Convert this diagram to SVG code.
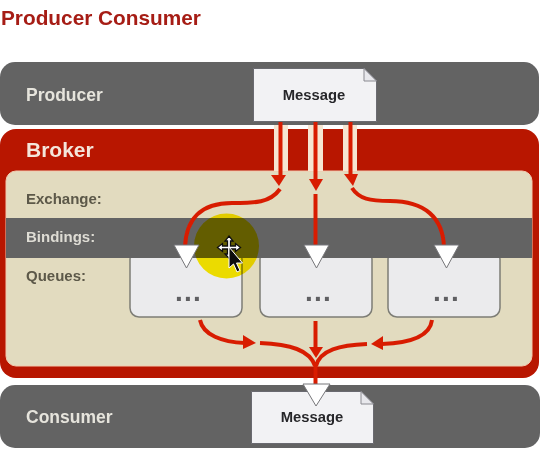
<svg xmlns="http://www.w3.org/2000/svg" width="559" height="452" viewBox="0 0 559 452">
<style>
text{font-family:"Liberation Sans",Arial,sans-serif;font-weight:bold}
.band{fill:#636364}
.lab{font-size:17.500px;fill:#e6e4dc}
.row{font-size:15px;fill:#5c5848}
.msg{font-size:14.800px;fill:#28282a;text-anchor:middle}
.doc{fill:#f2f2f4;stroke:#6a6a70;stroke-width:1}
.fold{fill:#e8e8ec;stroke:#8a8a90;stroke-width:1}
.q{fill:#ebebed;stroke:#7d7d76;stroke-width:1.500}
.dots{font-size:28px;fill:#5e5e62;letter-spacing:1.200px}
.wire{fill:none;stroke:#d81e05;stroke-width:4}
.head{fill:#d81e05}
.stripe{fill:#f6e6d2}
.tri{fill:#fff;stroke:#77777a;stroke-width:1}
</style>
<defs><filter id="soft" x="0" y="0" width="100%" height="100%"><feGaussianBlur stdDeviation="0.500"/></filter></defs>
<g filter="url(#soft)">
<rect width="559" height="452" fill="#fff"/>
<text x="1" y="25" font-size="20.800" fill="#a61e14">Producer Consumer</text>

<g id="producer">
<rect class="band" x="0" y="62" width="539" height="63" rx="15"/>
<text class="lab" x="26" y="101">Producer</text>
</g>

<g id="consumer">
<rect class="band" x="0" y="385" width="540" height="63" rx="15"/>
<text class="lab" x="26" y="423">Consumer</text>
</g>

<g id="broker">
<rect x="0" y="129" width="539" height="249" rx="16" fill="#b81400"/>
<rect x="6" y="171" width="526" height="195" rx="10" fill="#e2dbbf" stroke="#f3c9ae" stroke-width="1"/>
<text x="26" y="157" font-size="21" fill="#f4e6da">Broker</text>
<text class="row" x="26" y="204">Exchange:</text>
<text class="row" x="26" y="281">Queues:</text>
</g>

<g id="queue1"><rect class="q" x="130" y="250" width="112" height="67" rx="9"/><text class="dots" x="175" y="301">...</text></g>
<g id="queue2"><rect class="q" x="260" y="250" width="112" height="67" rx="9"/><text class="dots" x="305" y="301">...</text></g>
<g id="queue3"><rect class="q" x="388" y="250" width="112" height="67" rx="9"/><text class="dots" x="433" y="301">...</text></g>

<g id="bindings">
<rect class="band" x="6" y="218" width="526" height="40"/>
<text class="row" x="26" y="242" style="fill:#dedcd4">Bindings:</text>
</g>

<circle cx="226.500" cy="246" r="32.500" fill="#ffee00" style="mix-blend-mode:multiply"/>

<g id="connectors">
<rect class="stripe" x="274" y="125" width="14" height="46"/>
<rect class="stripe" x="308" y="125" width="15" height="46"/>
<rect class="stripe" x="343" y="125" width="14" height="46"/>
<path class="wire" d="M280.500 122V176"/>
<path class="wire" d="M315.500 122V180"/>
<path class="wire" d="M350.500 122V176"/>
<path class="head" d="M271 175H286L279 186Z"/>
<path class="head" d="M309 179H323L316 191Z"/>
<path class="head" d="M344 174H358L353 186Z"/>
<path class="wire" d="M280 189C270 203 255 203 232 203C200 203 186 220 185 247"/>
<path class="wire" d="M315.500 194V247"/>
<path class="wire" d="M352 188C359 199 370 201 390 201C425 201 443 218 444 247"/>
<path class="wire" d="M200 320C203 335 222 342 245 343"/>
<path class="head" d="M243 335L256 343L243 349Z"/>
<path class="wire" d="M260 343C290 344 310 350 315 366"/>
<path class="wire" d="M315.500 321V350"/>
<path class="head" d="M309 347H323L316 358Z"/>
<path class="wire" d="M432 320C430 336 410 343 382 344"/>
<path class="head" d="M383 336L371 344L383 350Z"/>
<path class="wire" d="M367 344C340 345 320 350 316 366"/>
<path class="wire" d="M315.500 362V385"/>
</g>

<g id="message-out">
<path class="doc" d="M253.500 68.500H364L376.500 81V121.500H253.500Z"/>
<path class="fold" d="M364 68.500V81H376.500Z"/>
<text class="msg" x="314" y="100">Message</text>
</g>
<g id="message-in">
<path class="doc" d="M251.500 391.500H361L373.500 404V443.500H251.500Z"/>
<path class="fold" d="M361 391.500V404H373.500Z"/>
<text class="msg" x="312" y="422">Message</text>
</g>

<g id="binding-arrows">
<path class="tri" d="M174 245H199L186.500 268Z"/>
<path class="tri" d="M304 245H329L316.500 268Z"/>
<path class="tri" d="M434 245H459L446.500 268Z"/>
<path class="tri" d="M303 384H330L316 406Z"/>
</g>

<g id="cursor">
<path d="M229 236l4 5h-2.500v5h5v-2.500l5 4-5 4v-2.500h-5v5h2.500l-4 4-4-4h2.500v-5h-5v2.500l-5-4 5-4v2.500h5v-5H225Z" fill="#fff" stroke="#111" stroke-width="1.300"/>
<path d="M229 247V268l4.500-4 3.500 8 3-1.500-3.500-7.500h6Z" fill="#111" stroke="#fff" stroke-width="1"/>
</g>
</g>
</svg>
